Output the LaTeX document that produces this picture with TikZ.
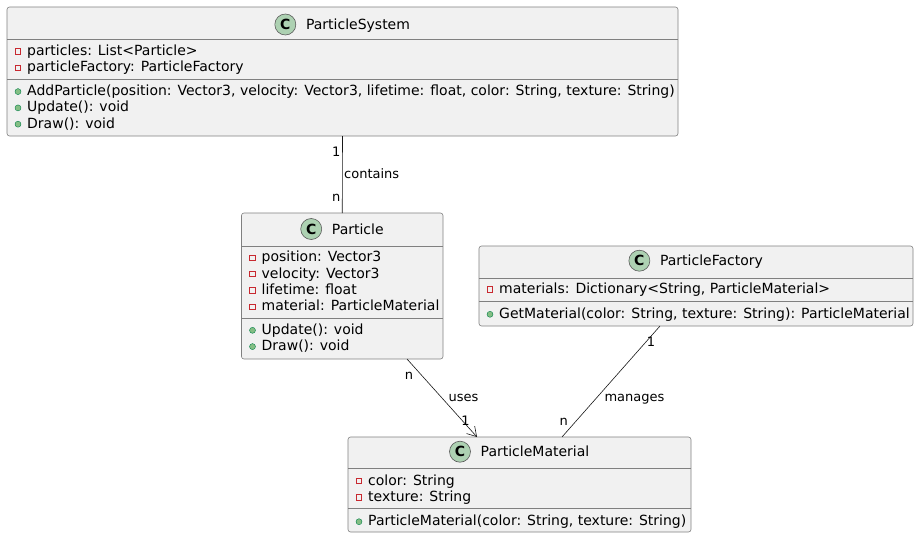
\documentclass[tikz,border=0pt]{standalone}
\usepackage{fontspec}
\setmainfont{DejaVu Sans}
\usetikzlibrary{arrows.meta}
\definecolor{boxfill}{HTML}{F1F1F1}
\definecolor{bordercol}{HTML}{808080}
\definecolor{linecol}{HTML}{181818}
\definecolor{privred}{HTML}{C82930}
\definecolor{pubfill}{HTML}{84BE84}
\definecolor{pubdraw}{HTML}{038048}
\definecolor{iconfill}{HTML}{ADD1B2}
\tikzset{
  box/.style={draw=bordercol, fill=boxfill, rounded corners=2.5pt, line width=0.6pt, inner sep=0, outer sep=0, anchor=north west},
  divider/.style={draw=bordercol, line width=0.6pt},
  member/.style={anchor=base west, inner sep=0, font=\fontsize{14}{14}\selectfont},
  classname/.style={anchor=base, inner sep=0, font=\fontsize{14}{14}\selectfont},
  classicon/.style={circle, draw=bordercol!70!black, fill=iconfill, line width=0.6pt, minimum size=21pt, inner sep=0, font=\bfseries\fontsize{14}{14}\selectfont},
  privicon/.style={rectangle, draw=privred, line width=0.7pt, minimum size=5.5pt, inner sep=0},
  pubicon/.style={circle, draw=pubdraw, fill=pubfill, line width=0.4pt, minimum size=6pt, inner sep=0},
  conn/.style={draw=linecol, line width=0.6pt},
  lbl/.style={anchor=base, inner sep=0, font=\fontsize{13}{13}\selectfont},
}
\newcommand\privm[4]{%
  \node[privicon] (#1i) at (#2+11,#3-4) {};
  \node[member] (#1) at (#2+20,#3) {#4};}
\newcommand\pubm[4]{%
  \node[pubicon] (#1i) at (#2+11,#3-4) {};
  \node[member] (#1) at (#2+20,#3) {#4};}
\newcommand\headr[4]{%
  \node[classname] (#1) at (#2+15.5,#3) {#4};
  \node[classicon] (#1c) at ([shift={(-20.5,-5)}]#1.base west) {C};}
\begin{document}
\begin{tikzpicture}[x=1pt,y=-1pt]
\useasboundingbox (0,0) rectangle (919,538);

% ParticleSystem
\node[box, minimum width=671pt, minimum height=129pt] (ps) at (7,7) {};
\draw[divider] (ps.west |- 0,39) -- (ps.east |- 0,39);
\draw[divider] (ps.west |- 0,79.5) -- (ps.east |- 0,79.5);
\headr{psn}{342.5}{29.5}{ParticleSystem}
\privm{ps1}{7}{55.3}{particles: List<Particle>}
\privm{ps2}{7}{71.6}{particleFactory: ParticleFactory}
\pubm{ps3}{7}{95.6}{AddParticle(position: Vector3, velocity: Vector3, lifetime: float, color: String, texture: String)}
\pubm{ps4}{7}{111.9}{Update(): void}
\pubm{ps5}{7}{128.2}{Draw(): void}

% Particle
\node[box, minimum width=201.5pt, minimum height=146pt] (p) at (241.5,213) {};
\draw[divider] (p.west |- 0,246) -- (p.east |- 0,246);
\draw[divider] (p.west |- 0,318) -- (p.east |- 0,318);
\headr{pn}{342.3}{234}{Particle}
\privm{p1}{241.5}{261.7}{position: Vector3}
\privm{p2}{241.5}{278}{velocity: Vector3}
\privm{p3}{241.5}{294.3}{lifetime: float}
\privm{p4}{241.5}{310.6}{material: ParticleMaterial}
\pubm{p5}{241.5}{334.3}{Update(): void}
\pubm{p6}{241.5}{350.6}{Draw(): void}

% ParticleFactory
\node[box, minimum width=434pt, minimum height=80pt] (pf) at (479,246) {};
\draw[divider] (pf.west |- 0,278) -- (pf.east |- 0,278);
\draw[divider] (pf.west |- 0,301) -- (pf.east |- 0,301);
\headr{pfn}{696}{265.7}{ParticleFactory}
\privm{pf1}{479}{293.3}{materials: Dictionary<String, ParticleMaterial>}
\pubm{pf2}{479}{318.3}{GetMaterial(color: String, texture: String): ParticleMaterial}

% ParticleMaterial
\node[box, minimum width=343pt, minimum height=95pt] (pm) at (348,437) {};
\draw[divider] (pm.west |- 0,468) -- (pm.east |- 0,468);
\draw[divider] (pm.west |- 0,508) -- (pm.east |- 0,508);
\headr{pmn}{519.5}{456.7}{ParticleMaterial}
\privm{pm1}{348}{485}{color: String}
\privm{pm2}{348}{501.3}{texture: String}
\pubm{pm3}{348}{525.7}{ParticleMaterial(color: String, texture: String)}

% connectors
\draw[conn] (ps.south) -- (p.north);
\node[lbl, anchor=base east] (c1) at (340.5,156.5) {1};
\node[lbl, anchor=base west] (c2) at (344,178.5) {contains};
\node[lbl, anchor=base east] (c3) at (340.5,201.5) {n};

\draw[conn, -{Straight Barb[length=9pt,width=11pt,line width=0.6pt]}] ([xshift=-36pt]p.south east) -- ([xshift=129pt]pm.north west);
\node[lbl] (u1) at (409,379) {n};
\node[lbl] (u2) at (463.5,401.5) {uses};
\node[lbl] (u3) at (465.5,425) {1};

\draw[conn] ([xshift=181pt]pf.south west) -- ([xshift=214pt]pm.north west);
\node[lbl] (m1) at (651,346) {1};
\node[lbl] (m2) at (634.5,401.5) {manages};
\node[lbl] (m3) at (563.7,425) {n};
\end{tikzpicture}
\end{document}
